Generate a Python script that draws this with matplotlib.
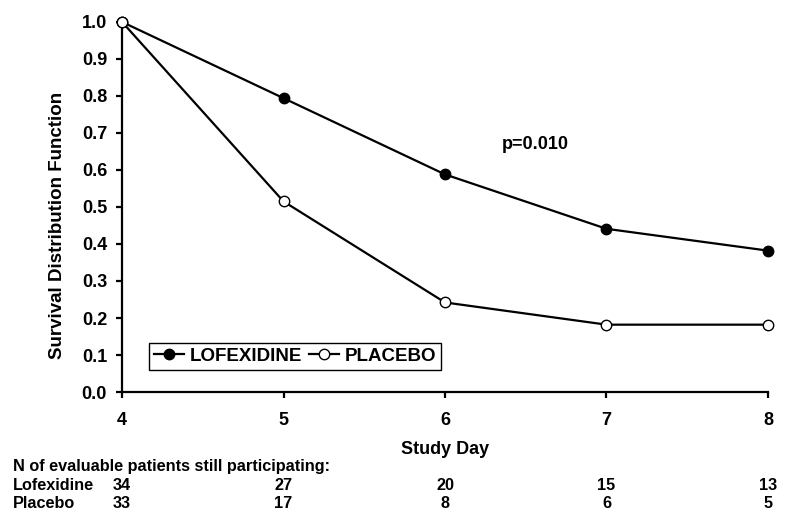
import matplotlib.pyplot as plt
from matplotlib.transforms import blended_transform_factory

plt.rcParams['font.family'] = ['Liberation Sans', 'DejaVu Sans']
plt.rcParams['font.weight'] = 'bold'

days = [4, 5, 6, 7, 8]
lofexidine = [1.0, 0.794, 0.588, 0.441, 0.382]
placebo = [1.0, 0.515, 0.242, 0.182, 0.182]
n_lofexidine = [34, 27, 20, 15, 13]
n_placebo = [33, 17, 8, 6, 5]
yticks = [0.0, 0.1, 0.2, 0.3, 0.4, 0.5, 0.6, 0.7, 0.8, 0.9, 1.0]

fig = plt.figure(figsize=(7.98, 5.22), dpi=100)
ax = fig.add_axes([0.1529, 0.249, 0.8095, 0.709])

ax.plot(days, lofexidine, color='black', lw=1.6, marker='o', ms=7.5,
        mfc='black', mec='black', label='LOFEXIDINE', zorder=3, clip_on=False)
ax.plot(days, placebo, color='black', lw=1.6, marker='o', ms=7.5,
        mfc='white', mec='black', mew=1.0, label='PLACEBO', zorder=4, clip_on=False)

ax.set_xlim(4, 8)
ax.set_ylim(0, 1.0)
ax.set_xticks(days)
ax.set_yticks(yticks)
ax.set_yticklabels([f'{v:.1f}' for v in yticks])
for s in ['top', 'right']:
    ax.spines[s].set_visible(False)
for s in ['left', 'bottom']:
    ax.spines[s].set_linewidth(1.6)
ax.tick_params(direction='out', length=4.3, width=1.6, labelsize=13, pad=6.5)
ax.tick_params(axis='x', pad=10)

ax.set_ylabel('Survival Distribution Function', fontsize=13.5, fontweight='bold')
ax.yaxis.set_label_coords(-0.086, 0.45)
ax.set_xlabel('Study Day', fontsize=13, fontweight='bold', labelpad=9)

ax.text(6.557, 0.668, 'p=0.010', fontsize=13, fontweight='bold', ha='center', va='center')

leg = ax.legend(loc='upper left',
                bbox_to_anchor=(149 / 798, 1 - 343 / 522), bbox_transform=fig.transFigure,
                borderaxespad=0, ncol=2,
                fancybox=False, edgecolor='black', framealpha=1,
                handlelength=1.6, handletextpad=0.3, columnspacing=0.4,
                borderpad=0.25, prop={'size': 13.5, 'weight': 'bold'})
leg.get_frame().set_linewidth(1.0)

tr = blended_transform_factory(ax.transData, fig.transFigure)
fig.text(0.016, 1 - 467 / 522, 'N of evaluable patients still participating:',
         fontsize=11.7, fontweight='bold', va='center')
fig.text(0.016, 1 - 485 / 522, 'Lofexidine', fontsize=11.7, fontweight='bold', va='center')
fig.text(0.016, 1 - 504 / 522, 'Placebo', fontsize=11.7, fontweight='bold', va='center')
for d, a, b in zip(days, n_lofexidine, n_placebo):
    ax.text(d, 1 - 485 / 522, str(a), transform=tr, fontsize=11.7, fontweight='bold',
            ha='center', va='center', clip_on=False)
    ax.text(d, 1 - 504 / 522, str(b), transform=tr, fontsize=11.7, fontweight='bold',
            ha='center', va='center', clip_on=False)

fig.savefig('out.png', dpi=100)
